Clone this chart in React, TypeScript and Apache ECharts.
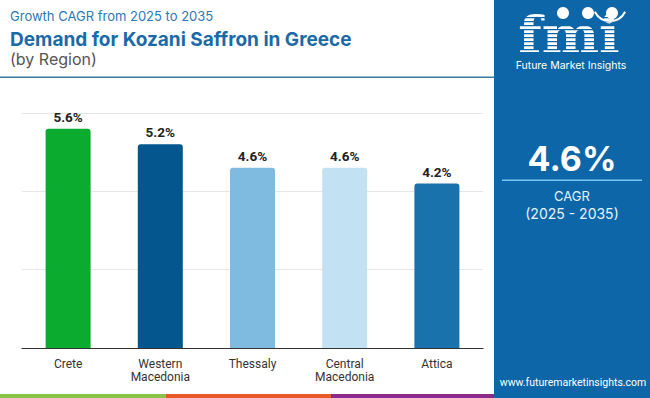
import React, { useEffect, useRef } from "react";
import * as echarts from "echarts";

const categories = ["Crete", "Western\nMacedonia", "Thessaly", "Central\nMacedonia", "Attica"];
const cagrValues = [5.6, 5.2, 4.6, 4.6, 4.2];
const barColors = ["#0aab2f", "#03568e", "#7fbae0", "#c2e2f3", "#1a72ad"];
const headlineValue = "4.6%";

export default function App() {
  const ref = useRef<HTMLDivElement>(null);
  useEffect(() => {
    document.body.style.margin = "0";
    if (!ref.current) return;
    const chart = echarts.init(ref.current, null, { renderer: "svg" });
    const panelX = 494;
    const panelColor = "#0c66a7";
    const stripes: any[] = [];
    for (let y = 17; y < 53; y += 4) {
      stripes.push({
        type: "rect",
        shape: { x: 512, y: y, width: 118, height: 1.2 },
        style: { fill: panelColor },
        z: 12,
      });
    }
    chart.setOption({
      animation: false,
      grid: { left: 22, right: 167, top: 113, bottom: 50, containLabel: false },
      xAxis: {
        type: "category",
        data: categories,
        axisLine: { lineStyle: { color: "#333", width: 1.2 } },
        axisTick: { show: false },
        axisLabel: {
          color: "#333",
          fontSize: 12,
          fontFamily: "Roboto",
          margin: 9,
          lineHeight: 13,
        },
      },
      yAxis: {
        type: "value",
        min: 0,
        max: 6,
        interval: 2,
        axisLabel: { show: false },
        axisLine: { show: false },
        axisTick: { show: false },
        splitLine: { lineStyle: { color: "#e6e6e6", width: 1 } },
      },
      series: [
        {
          type: "bar",
          barWidth: 45,
          data: cagrValues.map((v, i) => ({
            value: v,
            itemStyle: { color: barColors[i], borderRadius: [3, 3, 0, 0] },
          })),
          label: {
            show: true,
            position: "top",
            distance: 5,
            formatter: (p: any) => p.value.toFixed(1) + "%",
            color: "#222",
            fontSize: 13.5,
            fontWeight: "bold",
            fontFamily: "Roboto",
          },
        },
      ],
      graphic: [
        {
          type: "text",
          left: 10,
          top: 9,
          style: {
            text: "Growth CAGR from 2025 to 2035",
            fill: "#2b78b4",
            fontSize: 13,
            fontFamily: "Inter",
          },
        },
        {
          type: "text",
          left: 10,
          top: 30,
          style: {
            text: "Demand for Kozani Saffron in Greece",
            fill: "#1a6aa8",
            fontSize: 19,
            fontWeight: "bold",
            fontFamily: "Inter",
          },
        },
        {
          type: "text",
          left: 10,
          top: 51,
          style: {
            text: "(by Region)",
            fill: "#555",
            fontSize: 16,
            fontFamily: "Inter",
          },
        },
        {
          type: "rect",
          shape: { x: 0, y: 76.5, width: panelX, height: 1.5 },
          style: { fill: "#3a78a0" },
        },
        {
          type: "rect",
          shape: { x: panelX, y: 0, width: 650 - panelX, height: 398 },
          style: { fill: panelColor },
        },
        {
          type: "text",
          x: 569,
          y: 34,
          scaleX: 1.18,
          scaleY: 1.08,
          style: {
            text: "fmi",
            fill: "#fff",
            fontSize: 46,
            fontWeight: "bold",
            fontFamily: "DejaVu Serif",
            align: "center",
            verticalAlign: "middle",
          },
          z: 11,
        },
        ...stripes,
        { type: "circle", shape: { cx: 563, cy: 13, r: 6 }, style: { fill: "#fff" }, z: 13 },
        { type: "circle", shape: { cx: 588, cy: 13, r: 6 }, style: { fill: "#fff" }, z: 13 },
        { type: "circle", shape: { cx: 612, cy: 13, r: 6 }, style: { fill: "#fff" }, z: 13 },
        {
          type: "arc",
          shape: { cx: 610, cy: 4, r: 17, startAngle: Math.PI * 0.15, endAngle: Math.PI * 0.85 },
          style: { stroke: "#fff", lineWidth: 2, fill: "none" },
          z: 13,
        },
        {
          type: "text",
          x: 571,
          y: 65,
          style: {
            text: "Future Market Insights",
            fill: "#fff",
            fontSize: 10.5,
            fontFamily: "Inter",
            align: "center",
            verticalAlign: "middle",
          },
        },
        {
          type: "text",
          x: 572,
          y: 158,
          style: {
            text: headlineValue,
            fill: "#fff",
            fontSize: 34,
            fontWeight: "bold",
            fontFamily: "Inter",
            align: "center",
            verticalAlign: "middle",
          },
        },
        {
          type: "rect",
          shape: { x: 502, y: 179.5, width: 140, height: 1.6 },
          style: { fill: "#7cc6f0" },
        },
        {
          type: "text",
          x: 572,
          y: 196,
          style: {
            text: "CAGR",
            fill: "#e8f2fa",
            fontSize: 13,
            fontFamily: "Inter",
            align: "center",
            verticalAlign: "middle",
          },
        },
        {
          type: "text",
          x: 572,
          y: 213,
          style: {
            text: "(2025 - 2035)",
            fill: "#e8f2fa",
            fontSize: 14,
            fontFamily: "Inter",
            align: "center",
            verticalAlign: "middle",
          },
        },
        {
          type: "text",
          x: 573,
          y: 382,
          style: {
            text: "www.futuremarketinsights.com",
            fill: "#fff",
            fontSize: 10.5,
            fontFamily: "Roboto",
            align: "center",
            verticalAlign: "middle",
          },
        },
        { type: "rect", shape: { x: 0, y: 394, width: 166, height: 4 }, style: { fill: "#8cc24a" } },
        { type: "rect", shape: { x: 166, y: 394, width: 165, height: 4 }, style: { fill: "#e8582a" } },
        { type: "rect", shape: { x: 331, y: 394, width: 163, height: 4 }, style: { fill: "#8c2c8a" } },
      ],
    });
    return () => chart.dispose();
  }, []);
  return <div ref={ref} style={{ width: 650, height: 398 }} />;
}
